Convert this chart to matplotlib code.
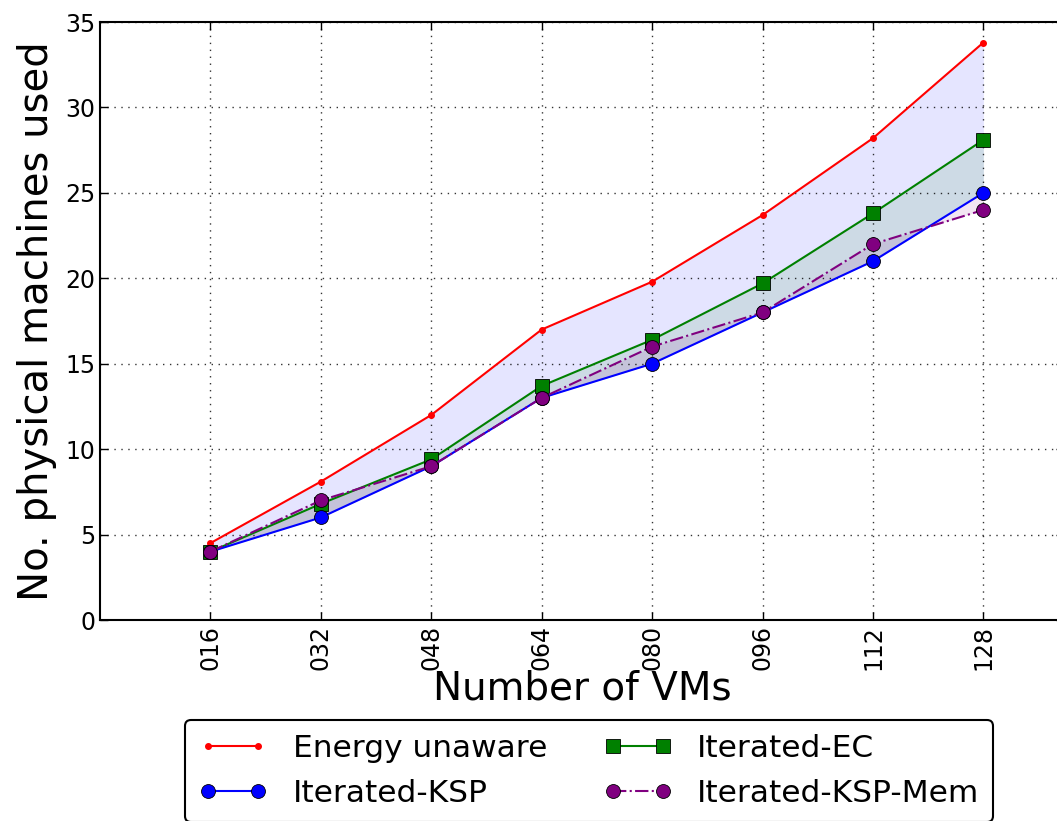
import numpy as np
import matplotlib
matplotlib.use('Agg')
import matplotlib.pyplot as plt

vms = ['016', '032', '048', '064', '080', '096', '112', '128']
energy_unaware = [4.5, 8.1, 12.0, 17.0, 19.8, 23.7, 28.2, 33.8]
iterated_ec = [4.0, 6.8, 9.4, 13.7, 16.4, 19.7, 23.8, 28.1]
iterated_ksp = [4.0, 6.0, 9.0, 13.0, 15.0, 18.0, 21.0, 25.0]
iterated_ksp_mem = [4.0, 7.0, 9.0, 13.0, 16.0, 18.0, 22.0, 24.0]

W, H = 1057, 821
fig = plt.figure(figsize=(W / 100, H / 100), dpi=100)
# axes runs a little past the right edge of the figure, like the original crop
ax = fig.add_axes([100 / W, 1 - 620 / H, (1064 - 100) / W, (620 - 22) / H])

x = np.arange(1, len(vms) + 1)

ax.fill_between(x, energy_unaware, iterated_ksp, color='blue', alpha=0.1, linewidth=0)
ax.fill_between(x, iterated_ec, iterated_ksp, color='green', alpha=0.1, linewidth=0)
ax.fill_between(x, iterated_ksp_mem, iterated_ksp, color='purple', alpha=0.1, linewidth=0)

ax.plot(x, energy_unaware, '-', color='red', marker='.', markersize=8,
        linewidth=1.5, label='Energy unaware')
ax.plot(x, iterated_ec, '-', color='green', marker='s', markersize=10,
        markeredgecolor='black', markeredgewidth=0.6, linewidth=1.5, label='Iterated-EC')
ax.plot(x, iterated_ksp, '-', color='blue', marker='o', markersize=10,
        markeredgecolor='black', markeredgewidth=0.6, linewidth=1.5, label='Iterated-KSP')
ax.plot(x, iterated_ksp_mem, '-.', color='purple', marker='o', markersize=10,
        markeredgecolor='black', markeredgewidth=0.6, linewidth=1.5, label='Iterated-KSP-Mem')

ax.set_xlim(0, 8.73)
ax.set_ylim(0, 35)
ax.set_xticks(x)
ax.set_xticklabels(vms, rotation=90, fontsize=17)
ax.set_yticks(np.arange(0, 36, 5))
ax.tick_params(axis='y', labelsize=17)
ax.tick_params(direction='in', length=6, width=1, top=True, right=True)
ax.grid(True, color='black', linestyle=(0, (1, 4)), linewidth=1, alpha=0.8)
for s in ax.spines.values():
    s.set_linewidth(1.5)

ax.set_xlabel('Number of VMs', fontsize=28, labelpad=0)
ax.set_ylabel('No. physical machines used', fontsize=29, labelpad=6)

h, l = ax.get_legend_handles_labels()
order = [0, 2, 1, 3]
leg = fig.legend([h[i] for i in order], [l[i] for i in order], ncol=2,
                 loc='upper center', bbox_to_anchor=(589 / W, 1 - 720 / H),
                 fontsize=22.5, numpoints=2, fancybox=True, frameon=True,
                 columnspacing=1.8, handlelength=2.2, borderpad=0.45,
                 labelspacing=0.5, borderaxespad=0)
leg.get_frame().set_edgecolor('black')
leg.get_frame().set_linewidth(1.5)
leg.get_frame().set_alpha(1)

fig.savefig('out.png', dpi=100)
